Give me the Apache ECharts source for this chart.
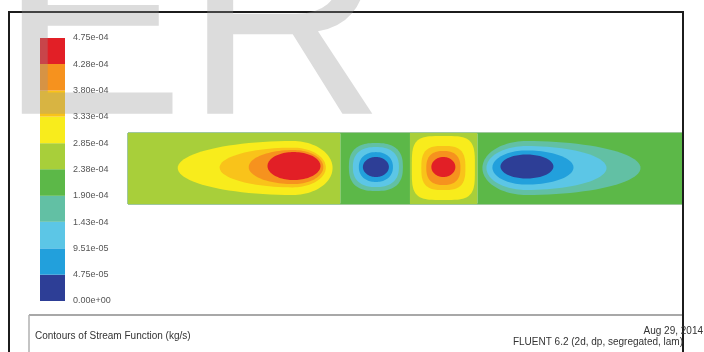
<!DOCTYPE html>
<html>
<head>
<meta charset="utf-8">
<script src="https://cdn.jsdelivr.net/npm/echarts@6/dist/echarts.min.js"></script>
<style>
  html, body { margin: 0; padding: 0; background: #ffffff; }
  #chart { width: 704px; height: 352px; }
</style>
</head>
<body>
<div id="chart"></div>
<script>
// Contour levels of the stream function (kg/s) and their legend text
const levels = [0, 4.75e-5, 9.51e-5, 1.43e-4, 1.90e-4, 2.38e-4, 2.85e-4, 3.33e-4, 3.80e-4, 4.28e-4, 4.75e-4];
const levelLabels = ['0.00e+00', '4.75e-05', '9.51e-05', '1.43e-04', '1.90e-04', '2.38e-04',
                     '2.85e-04', '3.33e-04', '3.80e-04', '4.28e-04', '4.75e-04'];
// Fill colour of each band, lowest band first
const bandColors = ['#2d3e96', '#22a0dc', '#5cc6e6', '#62c0a4', '#5cb848',
                    '#a8cf3a', '#f8ec1c', '#f9c31a', '#f6921e', '#e21f26'];

// Channel extent (mm)
const channelLength = 78;
const channelHeight = 10;

// Background strips of the channel: [xStart, xEnd, band]
const bandStrips = [
  [0, 29.9, 5],
  [29.9, 39.7, 4],
  [39.7, 49.2, 5],
  [49.2, 78, 4]
];

// Closed contour lines around each recirculation cell, outer ring first:
// [centreX, centreY, reachLeft, reachRight, halfHeight, squareness, band]
const vortexRings = [
  // cell 1 (clockwise, long upstream tail)
  [23.2, 5.07, 16.2, 5.6, 3.8, 2.0, 6],
  [23.2, 5.14, 10.3, 4.65, 2.8, 2.0, 7],
  [23.3, 5.20, 6.3, 4.2, 2.4, 2.0, 8],
  [23.3, 5.35, 3.66, 3.8, 1.97, 2.0, 9],
  // cell 2
  [34.9, 5.21, 3.8, 3.8, 3.38, 2.6, 3],
  [34.9, 5.21, 3.24, 3.24, 2.82, 2.4, 2],
  [34.9, 5.21, 2.4, 2.4, 2.1, 2.2, 1],
  [34.9, 5.21, 1.83, 1.83, 1.41, 2.0, 0],
  // cell 3
  [44.4, 5.07, 4.44, 4.44, 4.5, 4.0, 6],
  [44.4, 5.07, 3.1, 3.1, 3.1, 3.0, 7],
  [44.4, 5.07, 2.4, 2.4, 2.4, 2.5, 8],
  [44.4, 5.21, 1.69, 1.69, 1.41, 2.0, 9],
  // cell 4 (long downstream tail)
  [56.1, 5.07, 6.2, 16.06, 3.8, 2.0, 3],
  [56.1, 5.07, 5.63, 11.27, 3.1, 2.0, 2],
  [56.1, 5.14, 4.79, 6.62, 2.4, 2.0, 1],
  [56.1, 5.28, 3.66, 3.8, 1.69, 2.0, 0]
];

const chart = echarts.init(document.getElementById('chart'), null, { renderer: 'canvas' });
const FONT = '"Liberation Sans", Arial, sans-serif';
const step = levels[1];

// legend bands built from the level list
const legendBands = levels.slice(0, -1).map((lo, i) => [lo, levels[i + 1], i]);

function renderStrip(params, api) {
  const p0 = api.coord([api.value(0), channelHeight]);
  const p1 = api.coord([api.value(1), 0]);
  return {
    type: 'rect',
    shape: { x: p0[0], y: p0[1], width: p1[0] - p0[0], height: p1[1] - p0[1] },
    style: { fill: bandColors[api.value(2)] }
  };
}

function renderRing(params, api) {
  const cx = api.value(0), cy = api.value(1);
  const rxL = api.value(2), rxR = api.value(3), ry = api.value(4);
  const e = 2 / api.value(5);
  const pts = [];
  const n = 96;
  for (let k = 0; k < n; k++) {
    const t = (k / n) * Math.PI * 2;
    const c = Math.cos(t), s = Math.sin(t);
    const dx = Math.sign(c) * Math.pow(Math.abs(c), e) * (c >= 0 ? rxR : rxL);
    const dy = Math.sign(s) * Math.pow(Math.abs(s), e) * ry;
    pts.push(api.coord([cx + dx, cy + dy]));
  }
  return {
    type: 'polygon',
    shape: { points: pts, smooth: 0 },
    style: { fill: bandColors[api.value(6)] }
  };
}

function renderLegendBand(params, api) {
  const p0 = api.coord([0, api.value(1)]);
  const p1 = api.coord([1, api.value(0)]);
  return {
    type: 'rect',
    shape: { x: p0[0], y: p0[1], width: p1[0] - p0[0], height: p1[1] - p0[1] },
    style: { fill: bandColors[api.value(2)] }
  };
}

const option = {
  backgroundColor: '#ffffff',
  animation: false,
  grid: [
    { left: 128, top: 133, width: 554, height: 71, show: true,
      borderColor: '#3f8f3a', borderWidth: 1, backgroundColor: 'transparent' },
    { left: 40, top: 38, width: 25, height: 263 }
  ],
  xAxis: [
    { gridIndex: 0, type: 'value', min: 0, max: channelLength, show: false },
    { gridIndex: 1, type: 'value', min: 0, max: 1, show: false }
  ],
  yAxis: [
    { gridIndex: 0, type: 'value', min: 0, max: channelHeight, show: false },
    {
      gridIndex: 1, type: 'value', position: 'right',
      min: 0, max: levels[levels.length - 1], interval: step,
      axisLine: { show: false }, axisTick: { show: false }, splitLine: { show: false },
      axisLabel: {
        margin: 8, fontSize: 9, color: '#555', fontFamily: FONT,
        formatter: v => levelLabels[Math.round(v / step)] || ''
      }
    }
  ],
  series: [
    { type: 'custom', xAxisIndex: 0, yAxisIndex: 0, renderItem: renderStrip, data: bandStrips,
      silent: true, clip: true },
    { type: 'custom', xAxisIndex: 0, yAxisIndex: 0, renderItem: renderRing, data: vortexRings,
      silent: true, clip: true },
    { type: 'custom', xAxisIndex: 1, yAxisIndex: 1, renderItem: renderLegendBand, data: legendBands,
      silent: true }
  ],
  graphic: [
    // outer frame
    { type: 'line', shape: { x1: 8, y1: 12, x2: 684, y2: 12 }, style: { stroke: '#1c1c1c', lineWidth: 2 }, z: 10 },
    { type: 'line', shape: { x1: 9, y1: 11, x2: 9, y2: 352 }, style: { stroke: '#1c1c1c', lineWidth: 2 }, z: 10 },
    { type: 'line', shape: { x1: 683, y1: 11, x2: 683, y2: 352 }, style: { stroke: '#1c1c1c', lineWidth: 2 }, z: 10 },
    // caption box
    { type: 'line', shape: { x1: 29, y1: 315, x2: 682, y2: 315 }, style: { stroke: '#a8a8a8', lineWidth: 2 }, z: 10 },
    { type: 'line', shape: { x1: 29, y1: 315, x2: 29, y2: 352 }, style: { stroke: '#b0b0b0', lineWidth: 1.5 }, z: 10 },
    { type: 'text', x: 35, y: 336, z: 10,
      style: { text: 'Contours of Stream Function (kg/s)', font: '10px ' + FONT, fill: '#333',
               align: 'left', verticalAlign: 'middle' } },
    { type: 'text', x: 703, y: 331, z: 10,
      style: { text: 'Aug 29, 2014', font: '10px ' + FONT, fill: '#333',
               align: 'right', verticalAlign: 'middle' } },
    { type: 'text', x: 683, y: 342, z: 10,
      style: { text: 'FLUENT 6.2 (2d, dp, segregated, lam)', font: '10px ' + FONT, fill: '#333',
               align: 'right', verticalAlign: 'middle' } },
    // translucent lettering across the top
    { type: 'text', x: -1, y: 37, z: 100,
      style: { text: 'ER', font: '278px ' + FONT, fill: 'rgba(150,150,150,0.33)',
               align: 'left', verticalAlign: 'middle' } }
  ]
};

chart.setOption(option);
</script>
</body>
</html>
